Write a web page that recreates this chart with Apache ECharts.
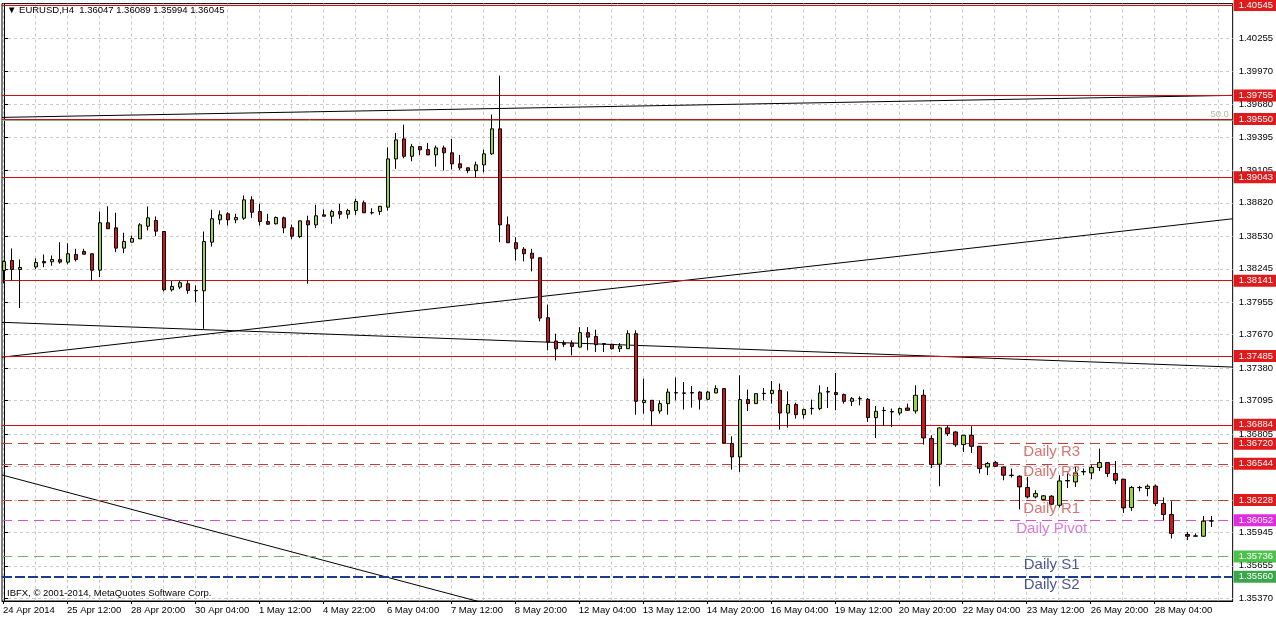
<!DOCTYPE html>
<html><head><meta charset="utf-8">
<script src="https://cdn.jsdelivr.net/npm/echarts@6/dist/echarts.min.js"></script>
<style>html,body{margin:0;padding:0;background:#fff}#c{width:1276px;height:619px}</style>
</head><body><div id="c"></div>
<script>
// ---- data (EURUSD H4), one slot per bar, null = no bar drawn ----
const opens = [1.38230,1.38317,1.38239,null,1.38261,1.38309,1.38306,1.38324,1.38303,1.38370,1.38396,1.38376,1.38233,1.38646,1.38602,1.38425,1.38477,1.38506,1.38616,1.38666,
1.38570,1.38062,1.38085,1.38114,1.38056,1.38053,1.38477,1.38672,1.38724,1.38672,1.38686,1.38846,1.38744,1.38657,1.38637,1.38689,1.38602,1.38526,1.38663,1.38628,
1.38715,1.38703,1.38744,1.38721,1.38753,1.38820,1.38733,1.38744,1.38782,1.39203,1.39377,1.39226,1.39310,1.39284,1.39238,1.39299,1.39256,1.39160,1.39125,1.39101,
1.39151,1.39247,1.39465,1.38628,1.38472,1.38416,1.38381,1.38341,1.37818,1.37615,1.37595,1.37597,1.37562,1.37688,1.37655,1.37592,1.37586,1.37548,1.37548,1.37679,
1.37078,1.37098,1.37005,1.37069,1.37162,1.37162,1.37165,1.37170,1.37107,1.37162,1.37200,1.36721,1.36604,1.37104,1.37069,1.37156,1.37156,1.37185,1.36987,1.37061,
1.36973,1.37026,1.37026,1.37170,1.37165,1.37148,1.37089,1.37113,1.37107,1.36947,1.37008,1.37000,1.36987,1.37031,1.37005,1.37142,1.36764,1.36541,1.36857,1.36822,
1.36712,1.36793,1.36697,1.36517,1.36555,1.36517,1.36445,1.36436,1.36338,1.36256,1.36233,1.36262,1.36183,1.36395,1.36386,1.36474,1.36465,1.36512,1.36555,1.36460,
1.36410,1.36163,1.36338,1.36329,1.36349,1.36198,1.36102,null,1.35928,1.35913,1.35913,1.36047];
const highs = [1.38317,1.38422,1.38326,null,1.38335,1.38370,1.38361,1.38477,1.38468,1.38419,1.38419,1.38378,1.38744,1.38790,1.38733,1.38559,1.38535,1.38642,1.38788,1.38701,
1.38572,1.38137,1.38143,1.38143,1.38100,1.38570,1.38759,1.38753,1.38738,1.38724,1.38884,1.38877,1.38811,1.38724,1.38701,1.38701,1.38631,1.38666,1.38707,1.38803,
1.38762,1.38759,1.38811,1.38768,1.38855,1.38840,1.38773,1.38792,1.39304,1.39430,1.39502,1.39334,1.39315,1.39343,1.39319,1.39319,1.39377,1.39238,1.39130,1.39180,
1.39282,1.39589,1.39929,1.38701,1.38520,1.38433,1.38419,1.38344,1.37932,1.37679,1.37621,1.37621,1.37736,1.37736,1.37714,1.37595,1.37592,1.37597,1.37708,1.37708,
1.37287,1.37098,1.37098,1.37200,1.37296,1.37257,1.37223,1.37176,1.37179,1.37229,1.37205,1.36784,1.37316,1.37191,1.37159,1.37205,1.37266,1.37244,1.37176,1.37078,
1.37026,1.37104,1.37229,1.37214,1.37336,1.37156,1.37127,1.37133,1.37118,1.37048,1.37040,1.37026,1.37034,1.37069,1.37229,1.37191,1.36793,1.36860,1.36880,1.36828,
1.36796,1.36872,1.36700,1.36561,1.36569,1.36520,1.36503,1.36445,1.36430,1.36314,1.36271,1.36271,1.36445,1.36460,1.36517,1.36503,1.36532,1.36677,1.36558,1.36569,
1.36413,1.36352,1.36352,1.36364,1.36364,1.36251,1.36218,null,1.35951,1.35937,1.36088,1.36089];
const lows = [1.38117,1.38143,1.37902,null,1.38243,1.38259,1.38271,1.38289,1.38283,1.38309,1.38370,1.38143,1.38172,1.38592,1.38390,1.38381,1.38474,1.38505,1.38579,1.38529,
1.38047,1.38047,1.38067,1.38027,1.37954,1.37722,1.38439,1.38631,1.38622,1.38642,1.38672,1.38689,1.38622,1.38628,1.38631,1.38555,1.38503,1.38512,1.38114,1.38599,
1.38703,1.38637,1.38681,1.38681,1.38715,1.38731,1.38718,1.38715,1.38753,1.39116,1.39208,1.39182,1.39238,1.39236,1.39136,1.39101,1.39110,1.39107,1.39078,1.39038,
1.39086,1.39238,1.38477,1.38470,1.38317,1.38309,1.38222,1.37786,1.37534,1.37446,1.37562,1.37490,1.37560,1.37534,1.37519,1.37519,1.37540,1.37519,1.37547,1.36973,
1.36982,1.36872,1.36982,1.36973,1.37098,1.37017,1.37034,1.37017,1.37098,1.37159,1.36724,1.36494,1.36474,1.37005,1.37068,1.37098,1.37069,1.36843,1.36860,1.36939,
1.36939,1.36973,1.37011,1.37031,1.37011,1.37069,1.37048,1.37054,1.36909,1.36770,1.36874,1.36865,1.36967,1.37005,1.36982,1.36712,1.36508,1.36349,1.36787,1.36691,
1.36648,1.36639,1.36460,1.36445,1.36517,1.36401,1.36425,1.36146,1.36242,1.36242,1.36227,1.36183,1.36163,1.36334,1.36343,1.36445,1.36410,1.36482,1.36430,1.36366,
1.36116,1.36134,1.36305,1.36262,1.36175,1.36053,1.35893,null,1.35879,1.35911,1.35908,1.35994];
const closes = [1.38309,1.38239,1.38256,null,1.38300,1.38297,1.38326,1.38303,1.38376,1.38326,1.38372,1.38233,1.38646,1.38594,1.38425,1.38483,1.38509,1.38628,1.38689,1.38573,
1.38062,1.38091,1.38123,1.38056,1.38053,1.38483,1.38681,1.38715,1.38672,1.38692,1.38846,1.38738,1.38657,1.38634,1.38692,1.38602,1.38529,1.38663,1.38628,1.38707,
1.38703,1.38744,1.38721,1.38753,1.38831,1.38733,1.38735,1.38790,1.39203,1.39369,1.39226,1.39310,1.39282,1.39238,1.39299,1.39256,1.39160,1.39125,1.39101,1.39151,
1.39247,1.39465,1.38628,1.38472,1.38419,1.38376,1.38337,1.37815,1.37606,1.37547,1.37586,1.37568,1.37688,1.37649,1.37583,1.37588,1.37548,1.37571,1.37679,1.37089,
1.37098,1.37005,1.37069,1.37170,1.37165,1.37160,1.37162,1.37107,1.37170,1.37200,1.36726,1.36604,1.37104,1.37069,1.37156,1.37159,1.37185,1.36987,1.37061,1.36973,
1.37017,1.37028,1.37162,1.37174,1.37148,1.37089,1.37113,1.37111,1.36947,1.37002,1.37010,1.36996,1.37026,1.37011,1.37142,1.36770,1.36538,1.36857,1.36808,1.36710,
1.36793,1.36697,1.36503,1.36547,1.36523,1.36445,1.36443,1.36343,1.36256,1.36285,1.36265,1.36192,1.36395,1.36399,1.36465,1.36477,1.36512,1.36555,1.36460,1.36401,
1.36160,1.36338,1.36336,1.36349,1.36198,1.36102,1.35937,null,1.35913,1.35916,1.36044,1.36045];

const xTickLabels = ['24 Apr 2014','25 Apr 12:00','28 Apr 20:00','30 Apr 04:00','1 May 12:00','4 May 22:00','6 May 04:00','7 May 12:00','8 May 20:00','12 May 04:00',
'13 May 12:00','14 May 20:00','16 May 04:00','19 May 12:00','20 May 20:00','22 May 04:00','23 May 12:00','26 May 20:00','28 May 04:00'];
const yTickValues = [1.35370,1.35655,1.35945,1.36230,1.36520,1.36805,1.37095,1.37380,1.37670,1.37955,1.38245,1.38530,1.38820,1.39105,1.39395,1.39680,1.39970,1.40255,1.40545];

const levelPrices = [1.40545,1.39755,1.39550,1.39043,1.38141,1.37485,1.36884];
const pivotNames  = ['Daily R3','Daily R2','Daily R1','Daily Pivot','Daily S1','Daily S2'];
const pivotPrices = [1.36720,1.36544,1.36228,1.36052,1.35736,1.35560];
const fiboLevel = {name:'50.0', price:1.39541};
const pivotLabelBar = 131;
const fiboLabelBar = 152;

// trend lines: [[barIndex, price], [barIndex, price]]
const trendLines = [
  [[-0.25,1.39565],[153.625,1.39757]],
  [[-0.25,1.37474],[153.625,1.38681]],
  [[-0.25,1.37778],[153.625,1.37388]],
  [[-0.25,1.36447],[70,1.35146]]
];

// ---- chart ----
const X_MIN = -0.25, X_MAX = 153.625, Y_MIN = 1.35348, Y_MAX = 1.40557;
const FONT = 'Liberation Sans';
const candles = [];
for (let i = 0; i < opens.length; i++) {
  if (opens[i] == null) continue;
  candles.push([i, opens[i], closes[i], lows[i], highs[i]]);
}
const gridTicks = [];
for (let v = -0.125; v < X_MAX; v += 4) gridTicks.push(v);
const labelTicks = xTickLabels.map((_, k) => k * 8 - 0.125);

const pivotStyles = [
  {line:'#c83a3a', box:'#e0191b', text:'#c8524e', type:[10,6], w:1},
  {line:'#c83a3a', box:'#e0191b', text:'#c8524e', type:[10,6], w:1},
  {line:'#c83a3a', box:'#e0191b', text:'#c8524e', type:[10,6], w:1},
  {line:'#d24fd2', box:'#e12de1', text:'#d45ad4', type:[10,6], w:1},
  {line:'#74a874', box:'#4cc24c', text:'#1e2a78', type:[10,6], w:1},
  {line:'#1a3c8c', box:'#3aa84a', text:'#1e2a78', type:[10,3], w:2}
];

const mlData = [];
levelPrices.forEach(p => mlData.push({yAxis:p, lineStyle:{color:'#d01010', width:1, type:'solid'},
  label:{backgroundColor:'#e0191b'}}));
pivotPrices.forEach((p, k) => mlData.push({yAxis:p, lineStyle:{color:pivotStyles[k].line, width:pivotStyles[k].w, type:pivotStyles[k].type},
  label:{backgroundColor:pivotStyles[k].box}}));

const series = [
  {
    type:'candlestick', data:candles, barWidth:4, silent:true,
    itemStyle:{color:'#9ad43a', color0:'#d4141c', borderColor:'#000', borderColor0:'#000', borderColorDoji:'#000', borderWidth:1},
    z:5
  },
  {
    type:'line', data:[], silent:true, z:3,
    markLine:{
      silent:true, symbol:['none','none'], animation:false, precision:5,
      label:{show:true, position:'end', distance:1, formatter:p => Number(p.value).toFixed(5),
        color:'#fff', fontFamily:FONT, fontSize:9.5, padding:[1,10,1,5]},
      data: mlData.concat([{yAxis:fiboLevel.price, lineStyle:{color:'#8fb08f', width:1, type:'solid'}, label:{show:false}}])
    }
  },
  {
    type:'scatter', silent:true, symbolSize:0, z:6,
    data: pivotPrices.map((p, k) => ({value:[pivotLabelBar, p], name:pivotNames[k],
      label:{color:pivotStyles[k].text}})),
    label:{show:true, position:'bottom', distance:1, formatter:d => d.name, fontFamily:FONT, fontSize:15}
  },
  {
    type:'scatter', silent:true, symbolSize:0, z:6,
    data:[{value:[fiboLabelBar, fiboLevel.price], name:fiboLevel.name}],
    label:{show:true, position:'top', distance:1, formatter:d => d.name, color:'#8fb08f', fontFamily:FONT, fontSize:9.5}
  }
];
trendLines.forEach(tl => series.push({type:'line', data:tl, silent:true, symbol:'none', z:4, clip:true,
  lineStyle:{color:'#000', width:1}}));

const chart = echarts.init(document.getElementById('c'), null, {renderer:'canvas'});
chart.setOption({
  animation:false,
  backgroundColor:'#fff',
  grid:{left:2, top:3, right:43, bottom:18, show:true, borderColor:'#000', borderWidth:1, containLabel:false},
  xAxis:[{
    type:'value', min:X_MIN, max:X_MAX, position:'bottom',
    axisLine:{show:true, lineStyle:{color:'#000'}},
    axisTick:{show:true, length:3, customValues:labelTicks, lineStyle:{color:'#000'}},
    splitLine:{show:false},
    axisLabel:{customValues:labelTicks, align:'left', margin:4, color:'#000', fontFamily:FONT, fontSize:9.5,
      formatter:v => xTickLabels[Math.round((v + 0.125) / 8)] || ''}
  },{
    type:'value', min:X_MIN, max:X_MAX, position:'top',
    axisLine:{show:false}, axisLabel:{show:false},
    axisTick:{show:false, customValues:gridTicks},
    splitLine:{show:true, lineStyle:{color:'#c9c9c9', type:[3,3], width:1}}
  }],
  yAxis:{
    type:'value', position:'right', min:Y_MIN, max:Y_MAX, scale:true,
    axisLine:{show:true, lineStyle:{color:'#000'}},
    axisTick:{show:true, length:4, customValues:yTickValues, lineStyle:{color:'#000'}},
    splitLine:{show:true, lineStyle:{color:'#c9c9c9', type:[3,3], width:1}},
    axisLabel:{customValues:yTickValues, margin:6, color:'#000', fontFamily:FONT, fontSize:9.5, padding:[0,0,3,0],
      formatter:v => v.toFixed(5)}
  },
  graphic:[
    {type:'text', left:7, top:5, z:10, style:{text:'\u25BC EURUSD,H4  ' + [opens[151],highs[151],lows[151],closes[151]].map(v=>v.toFixed(5)).join(' '),
      font:'9.5px ' + FONT, fill:'#000'}},
    {type:'text', left:7, top:588, z:10, style:{text:'IBFX, \u00A9 2001-2014, MetaQuotes Software Corp.', font:'9.5px ' + FONT, fill:'#000'}}
  ],
  series
});
</script></body></html>
